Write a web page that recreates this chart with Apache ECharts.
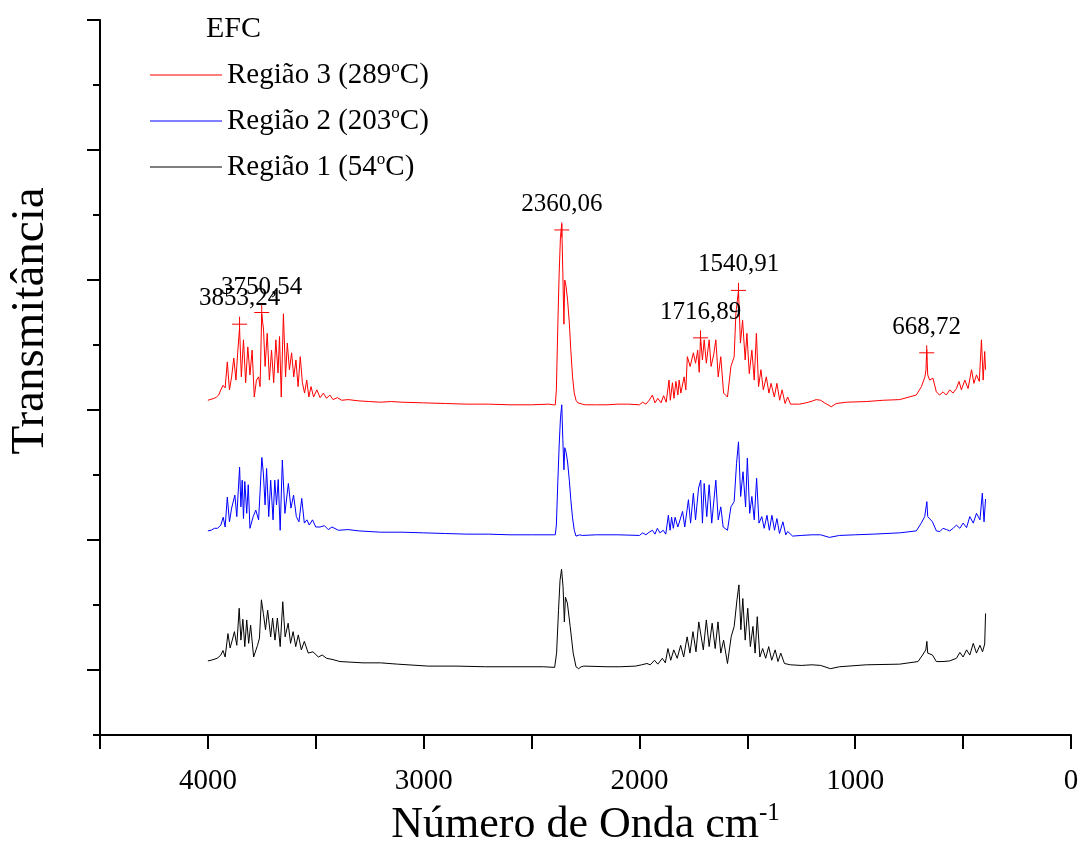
<!DOCTYPE html>
<html>
<head>
<meta charset="utf-8">
<title>EFC - FTIR</title>
<script src="https://cdn.jsdelivr.net/npm/echarts@6/dist/echarts.min.js"></script>
<style>
  html, body { margin: 0; padding: 0; background: #fff; }
  #grafico { width: 1081px; height: 843px; }
</style>
</head>
<body>
<div id="grafico"></div>
<script>
// espectros [numero de onda, transmitancia deslocada]
var regiao3 = [
  [4000,51.5],[3990,51.6],[3980,51.7],[3970,51.8],[3960,52.0],[3950,52.3],[3940,53.1],[3930,53.8],[3920,53.4],[3910,57.4],
  [3900,53.1],[3890,55.1],[3880,58.0],[3870,54.6],[3862,58.8],[3853.24,62.6],[3845,55.1],[3835,60.8],[3825,54.2],[3815,59.7],
  [3805,55.4],[3795,59.2],[3785,52.0],[3775,54.6],[3765,55.1],[3758,53.6],[3750.54,64.8],[3742,62.3],[3735,56.7],[3725,61.8],
  [3715,54.6],[3705,59.2],[3695,54.2],[3685,60.8],[3675,55.7],[3668,61.3],[3660,52.0],[3650,64.8],[3640,55.1],[3632,60.3],
  [3622,56.2],[3612,58.8],[3602,55.1],[3592,57.7],[3582,53.6],[3572,58.2],[3562,54.2],[3552,52.6],[3542,54.6],[3532,52.0],
  [3522,53.6],[3510,52.0],[3495,53.1],[3480,51.9],[3465,52.6],[3450,51.8],[3435,52.3],[3420,51.6],[3400,51.9],[3380,51.5],
  [3350,51.6],[3300,51.4],[3250,51.3],[3200,51.2],[3150,51.3],[3100,51.2],[3000,51.1],[2900,51.0],[2800,50.9],[2700,50.9],
  [2600,50.8],[2500,50.8],[2420,50.9],[2400,50.8],[2390,50.8],[2385,53.1],[2378,63.4],[2372,71.1],[2366,76.7],[2360.06,78.6],
  [2355,71.1],[2350,63.2],[2346,70.0],[2340,69.0],[2333,66.9],[2325,63.4],[2318,59.2],[2310,55.1],[2302,52.6],[2294,51.5],
  [2285,51.1],[2276,51.4],[2265,50.9],[2250,50.8],[2200,50.8],[2150,50.8],[2100,50.9],[2050,50.9],[2000,50.8],[1985,51.2],
  [1970,50.9],[1955,51.5],[1940,52.3],[1928,51.1],[1915,51.8],[1900,51.1],[1888,52.2],[1876,51.2],[1863,54.6],[1857,51.5],
  [1847,54.2],[1840,51.8],[1831,54.4],[1822,52.3],[1816,54.6],[1808,52.6],[1793,55.1],[1785,53.1],[1778,58.2],[1765,56.7],
  [1750,58.8],[1740,57.2],[1730,59.2],[1723,55.8],[1716.89,61.2],[1708,57.7],[1700,60.8],[1690,57.2],[1677,60.8],[1668,56.7],
  [1656,58.5],[1646,60.8],[1635,55.1],[1623,58.2],[1610,52.6],[1592,52.0],[1576,56.7],[1561,58.2],[1553,64.9],[1540.91,68.4],
  [1532,60.3],[1522,63.8],[1510,57.7],[1502,61.8],[1491,55.6],[1479,59.2],[1468,54.6],[1458,61.8],[1448,53.6],[1437,56.2],
  [1426,53.1],[1412,55.1],[1400,52.6],[1390,54.1],[1375,52.0],[1363,54.1],[1350,51.5],[1339,53.1],[1325,51.0],[1313,52.0],
  [1300,50.9],[1259,50.9],[1228,51.1],[1197,51.4],[1181,51.6],[1160,51.5],[1142,51.1],[1111,50.5],[1088,51.0],[1040,51.2],
  [949,51.3],[870,51.5],[794,51.6],[717,52.3],[693,53.6],[677,55.1],[672,56.2],[668.72,59.3],[664,55.4],[655,54.6],
  [640,54.9],[624,52.8],[609,52.3],[593,52.8],[578,52.3],[562,53.1],[547,52.6],[531,53.3],[519,54.4],[508,53.1],
  [492,54.6],[477,53.3],[461,56.2],[450,54.1],[438,55.4],[425,54.4],[415,60.8],[407,54.6],[400,59.0],[396,56.2]
];
var regiao2 = [
  [4000,31.4],[3985,31.5],[3970,31.8],[3955,31.8],[3940,32.3],[3929,33.5],[3920,32.0],[3910,36.6],[3900,32.8],[3890,34.9],
  [3875,36.9],[3866,33.6],[3853,41.2],[3847,35.1],[3841,39.2],[3835,33.3],[3829,39.0],[3820,34.1],[3813,38.5],[3805,31.8],
  [3790,33.6],[3778,34.6],[3765,33.1],[3750,42.7],[3743,40.3],[3735,35.4],[3728,41.0],[3718,33.6],[3709,39.2],[3698,33.1],
  [3690,39.2],[3682,35.4],[3674,39.3],[3665,31.5],[3655,42.3],[3643,34.1],[3627,38.7],[3615,34.9],[3603,36.9],[3590,33.6],
  [3578,32.8],[3565,36.4],[3553,32.6],[3541,33.1],[3530,32.3],[3515,33.1],[3500,32.0],[3480,32.0],[3460,32.2],[3442,31.6],
  [3425,32.0],[3395,31.5],[3350,31.6],[3300,31.4],[3200,31.2],[3100,31.2],[3000,31.1],[2900,31.0],[2800,30.9],[2700,30.9],
  [2600,30.8],[2500,30.8],[2400,30.8],[2390,30.8],[2385,32.3],[2378,39.2],[2372,44.6],[2366,48.8],[2360,50.8],[2355,45.4],
  [2350,40.8],[2346,44.2],[2340,43.5],[2333,42.0],[2325,39.2],[2318,36.2],[2310,33.4],[2302,31.5],[2294,30.6],[2285,30.3],
  [2276,30.8],[2265,30.7],[2200,30.8],[2100,30.8],[2000,30.7],[1985,31.1],[1970,30.8],[1955,31.2],[1940,31.5],[1928,30.9],
  [1917,31.8],[1905,31.1],[1890,31.5],[1878,30.9],[1866,33.8],[1858,31.5],[1851,33.5],[1843,31.8],[1835,33.5],[1822,32.0],
  [1800,34.4],[1790,32.0],[1773,36.2],[1763,32.6],[1750,37.2],[1740,33.1],[1726,38.0],[1716,39.2],[1708,32.6],[1700,38.7],
  [1688,33.6],[1677,38.5],[1665,32.6],[1646,39.2],[1635,33.1],[1623,35.1],[1612,32.0],[1592,31.5],[1576,35.1],[1561,35.9],
  [1550,41.8],[1541,45.1],[1531,36.7],[1520,40.5],[1508,35.1],[1500,42.6],[1489,34.1],[1479,36.7],[1468,33.1],[1457,39.5],
  [1446,32.6],[1433,33.6],[1422,31.8],[1409,33.8],[1398,31.5],[1386,33.8],[1374,31.5],[1363,33.3],[1351,31.0],[1335,32.8],
  [1322,30.8],[1313,31.3],[1290,30.6],[1250,30.7],[1200,30.8],[1160,30.8],[1120,30.4],[1073,30.7],[1000,30.8],[918,30.9],
  [794,31.1],[717,31.4],[694,32.6],[678,33.6],[668,35.9],[664,33.6],[642,32.8],[624,31.4],[608,31.3],[593,31.8],
  [577,31.6],[562,31.4],[546,31.8],[531,32.3],[515,31.8],[500,32.6],[484,31.9],[469,33.6],[453,32.6],[438,34.1],
  [422,33.1],[411,37.2],[403,32.8],[396,36.3]
];
var regiao1 = [
  [4000,11.4],[3985,11.5],[3957,11.8],[3940,12.3],[3930,13.0],[3920,12.0],[3907,15.6],[3897,13.4],[3887,14.6],[3877,15.9],
  [3866,13.8],[3855,19.5],[3847,14.6],[3838,17.8],[3829,13.6],[3820,17.7],[3811,14.1],[3802,16.9],[3788,12.0],[3770,13.8],
  [3761,14.9],[3752,20.8],[3743,18.7],[3733,16.2],[3723,19.2],[3709,15.1],[3700,18.0],[3689,14.6],[3678,18.0],[3665,13.6],
  [3653,20.5],[3642,15.1],[3628,17.2],[3617,14.1],[3605,15.9],[3593,13.6],[3581,15.4],[3567,13.1],[3553,14.4],[3535,12.6],
  [3513,12.8],[3488,12.0],[3470,12.3],[3450,11.8],[3420,11.6],[3388,11.3],[3281,11.1],[3200,11.1],[3121,10.9],[2979,10.6],
  [2850,10.6],[2713,10.5],[2600,10.5],[2446,10.5],[2393,10.4],[2384,12.6],[2375,19.2],[2368,23.8],[2361,25.5],[2354,22.8],
  [2348,17.4],[2343,21.2],[2334,20.3],[2321,16.7],[2307,12.6],[2294,10.5],[2282,10.2],[2270,10.5],[2258,10.6],[2150,10.5],
  [2089,10.5],[2018,10.6],[1990,10.8],[1965,11.0],[1950,10.8],[1930,11.5],[1915,10.9],[1894,11.8],[1880,11.1],[1868,13.3],
  [1855,11.5],[1841,13.1],[1825,11.8],[1809,13.8],[1795,12.0],[1779,15.1],[1766,12.6],[1752,15.9],[1738,12.8],[1725,17.4],
  [1716,17.7],[1704,13.1],[1690,17.7],[1677,13.6],[1663,17.2],[1649,13.3],[1636,17.4],[1623,12.6],[1610,14.6],[1592,11.0],
  [1575,15.1],[1561,16.7],[1548,20.8],[1539,23.1],[1530,16.2],[1521,21.0],[1510,14.6],[1498,19.5],[1486,13.6],[1474,16.7],
  [1464,12.6],[1454,18.2],[1442,12.0],[1429,13.3],[1415,11.8],[1401,13.6],[1387,11.5],[1371,13.1],[1358,11.3],[1345,12.6],
  [1328,11.0],[1300,10.8],[1250,10.7],[1200,10.8],[1160,10.7],[1115,10.2],[1073,10.5],[949,10.8],[794,10.9],[709,11.3],
  [688,12.3],[673,13.1],[668,14.4],[664,12.6],[642,12.3],[624,11.3],[593,11.3],[562,11.4],[531,11.8],[515,12.7],
  [500,12.0],[484,13.1],[469,12.3],[453,14.1],[438,12.6],[422,13.8],[410,12.8],[400,14.0],[396,18.7]
];

// picos marcados no espectro da regiao 3
var picoWn = [3853.24, 3750.54, 2360.06, 1716.89, 1540.91, 668.72];
var picoVal = [63.2, 65.0, 77.7, 61.1, 68.4, 58.8];
var picoTxt = ['3853,24', '3750,54', '2360,06', '1716,89', '1540,91', '668,72'];

var nomes = ['Região 3 (289°C)', 'Região 2 (203°C)', 'Região 1 (54°C)'];
var xTicks = [0, 1000, 2000, 3000, 4000];

var fonte = '"Liberation Serif", "Times New Roman", serif';

var picos = [];
for (var i = 0; i < picoWn.length; i++) {
  picos.push([picoWn[i], picoVal[i]]);
}

var myChart = echarts.init(document.getElementById('grafico'), null, { renderer: 'canvas' });

var option = {
  animation: false,
  backgroundColor: '#fff',
  title: {
    text: 'EFC',
    left: 206,
    top: 14,
    padding: 0,
    textStyle: { fontFamily: fonte, fontSize: 30, fontWeight: 'normal', color: '#000' }
  },
  legend: {
    data: nomes,
    orient: 'vertical',
    left: 150,
    top: 59,
    padding: 0,
    icon: 'rect',
    itemWidth: 72,
    itemHeight: 1,
    itemGap: 14,
    formatter: function (name) {
      return name.replace('°', '{sup|o}');
    },
    textStyle: {
      fontFamily: fonte,
      fontSize: 29,
      lineHeight: 32,
      color: '#000',
      rich: {
        sup: { fontFamily: fonte, fontSize: 17, lineHeight: 20, verticalAlign: 'top', color: '#000' }
      }
    }
  },
  graphic: [{
    type: 'text',
    x: 31,
    y: 321,
    rotation: Math.PI / 2,
    style: {
      text: 'Transmitância',
      font: '47px ' + fonte,
      fill: '#000',
      align: 'center',
      verticalAlign: 'middle',
      textAlign: 'center',
      textVerticalAlign: 'middle'
    }
  }],
  grid: { left: 100, right: 10, top: 20, bottom: 108, outerBoundsMode: 'none', containLabel: false },
  xAxis: {
    type: 'value',
    min: 0,
    max: 4500,
    interval: 500,
    inverse: true,
    name: 'Número de Onda cm{sup|-1}',
    nameLocation: 'middle',
    nameGap: 62,
    nameTextStyle: {
      fontFamily: fonte,
      fontSize: 44,
      lineHeight: 50,
      color: '#000',
      rich: {
        sup: { fontFamily: fonte, fontSize: 25, lineHeight: 25, verticalAlign: 'top', color: '#000' }
      }
    },
    axisLine: { onZero: false, lineStyle: { color: '#000', width: 2 } },
    axisTick: { inside: false, length: 14, lineStyle: { color: '#000', width: 2 } },
    axisLabel: {
      margin: 32,
      fontFamily: fonte,
      fontSize: 29,
      color: '#000',
      formatter: function (v) {
        return xTicks.indexOf(v) >= 0 ? String(v) : '';
      }
    },
    splitLine: { show: false }
  },
  yAxis: [{
    type: 'value',
    position: 'left',
    min: 0,
    max: 110,
    interval: 10,
    axisLine: { show: true, onZero: false, lineStyle: { color: '#000', width: 2 } },
    axisTick: { show: true, inside: false, length: 7, lineStyle: { color: '#000', width: 2 } },
    axisLabel: { show: false },
    splitLine: { show: false }
  }, {
    type: 'value',
    position: 'left',
    min: 0,
    max: 110,
    interval: 10,
    axisLine: { show: false, onZero: false },
    axisTick: {
      show: true,
      inside: false,
      length: 13,
      customValues: [10, 30, 50, 70, 90, 110],
      lineStyle: { color: '#000', width: 2 }
    },
    axisLabel: { show: false },
    splitLine: { show: false }
  }],
  series: [{
    name: nomes[2],
    type: 'line',
    data: regiao1,
    symbol: 'none',
    lineStyle: { color: '#000000', width: 1 },
    itemStyle: { color: '#000000' }
  }, {
    name: nomes[1],
    type: 'line',
    data: regiao2,
    symbol: 'none',
    lineStyle: { color: '#0000ff', width: 1 },
    itemStyle: { color: '#0000ff' }
  }, {
    name: nomes[0],
    type: 'line',
    data: regiao3,
    symbol: 'none',
    lineStyle: { color: '#ff0000', width: 1 },
    itemStyle: { color: '#ff0000' }
  }, {
    name: 'picos',
    type: 'scatter',
    data: picos,
    symbol: 'path://M0,7L14,7M7,0L7,14',
    symbolSize: 15,
    itemStyle: { color: 'none', borderColor: '#ff0000', borderWidth: 1, opacity: 1 },
    label: {
      show: true,
      position: 'top',
      distance: 3,
      fontFamily: fonte,
      fontSize: 25,
      color: '#000000',
      opacity: 1,
      textBorderWidth: 0,
      formatter: function (p) {
        return picoTxt[p.dataIndex];
      }
    },
    z: 5
  }]
};

myChart.setOption(option);
</script>
</body>
</html>
